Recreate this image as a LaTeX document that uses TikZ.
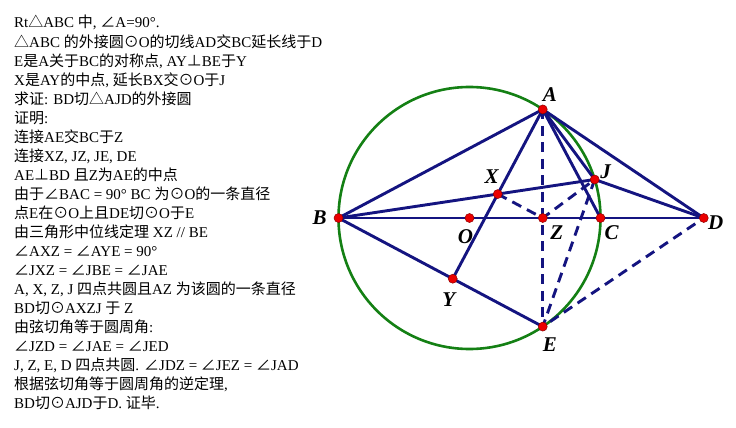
\documentclass[tikz,border=0pt]{standalone}
\usepackage{fontspec}
\setmainfont{Liberation Serif}
\newfontfamily\cjk{Noto Sans CJK SC}
\newcommand{\zh}[1]{{\cjk #1}}
\definecolor{segblue}{RGB}{20,20,128}
\definecolor{circgreen}{RGB}{20,128,20}
\definecolor{ptred}{RGB}{235,0,0}

\begin{document}
\begin{tikzpicture}[x=1pt,y=-1pt,
    seg/.style={segblue, line width=2.9pt},
    aux/.style={seg, dash pattern=on 10pt off 6.5pt},
    pt/.style={circle, fill=ptred, draw=ptred!60!black, line width=0.5pt, inner sep=0pt, minimum size=9pt},
    lab/.style={inner sep=0pt, font=\fontsize{21}{21}\selectfont\bfseries\itshape},
    txt/.style={anchor=base west, inner sep=0pt, font=\fontsize{15}{19}\selectfont}]
    \useasboundingbox (0,0) rectangle (736,428);

    % proof text
    \foreach \ltext [count=\i from 0] in {
        {Rt\zh{△}ABC \zh{中}, \zh{∠}A=90°.},
        {\zh{△}ABC \zh{的外接圆⊙}O\zh{的切线}AD\zh{交}BC\zh{延长线于}D},
        {E\zh{是}A\zh{关于}BC\zh{的对称点}, AY\zh{⊥}BE\zh{于}Y},
        {X\zh{是}AY\zh{的中点}, \zh{延长}BX\zh{交⊙}O\zh{于}J},
        {\zh{求证}: BD\zh{切△}AJD\zh{的外接圆}},
        {\zh{证明}:},
        {\zh{连接}AE\zh{交}BC\zh{于}Z},
        {\zh{连接}XZ, JZ, JE, DE},
        {AE\zh{⊥}BD \zh{且}Z\zh{为}AE\zh{的中点}},
        {\zh{由于∠}BAC = 90° BC \zh{为⊙}O\zh{的一条直径}},
        {\zh{点}E\zh{在⊙}O\zh{上且}DE\zh{切⊙}O\zh{于}E},
        {\zh{由三角形中位线定理} XZ // BE},
        {\zh{∠}AXZ = \zh{∠}AYE = 90°},
        {\zh{∠}JXZ = \zh{∠}JBE = \zh{∠}JAE},
        {A, X, Z, J \zh{四点共圆且}AZ \zh{为该圆的一条直径}},
        {BD\zh{切⊙}AXZJ \zh{于} Z},
        {\zh{由弦切角等于圆周角}:},
        {\zh{∠}JZD = \zh{∠}JAE = \zh{∠}JED},
        {J, Z, E, D \zh{四点共圆}. \zh{∠}JDZ = \zh{∠}JEZ = \zh{∠}JAD},
        {\zh{根据弦切角等于圆周角的逆定理},},
        {BD\zh{切⊙}AJD\zh{于}D. \zh{证毕}.}}
        \node[txt] (l\i) at (14,{28+19.03*\i}) {\ltext};

    \begin{scope}[shift={(469.5,218)}, x=131pt, y=131pt]
        \coordinate (O) at (0,0);
        \coordinate (A) at (0.5592,0.8290);
        \coordinate (B) at (-1,0);
        \coordinate (C) at (1,0);
        \coordinate (Z) at (0.5592,0);
        \coordinate (E) at (0.5592,-0.8290);
        \coordinate (D) at (1.7883,0);
        \coordinate (Y) at (-0.1280,-0.4636);
        \coordinate (X) at (0.2156,0.1827);
        \coordinate (J) at (0.9558,0.2940);

        \draw[circgreen, line width=2.6pt] (O) circle[radius=1]; % circumcircle

        \draw[seg] (B) -- (D);
        \draw[seg] (A) -- (B);
        \draw[seg] (A) -- (Y);
        \draw[seg] (A) -- (C);
        \draw[seg] (A) -- (J);
        \draw[seg] (A) -- (D);
        \draw[seg] (B) -- (J) -- (D);
        \draw[seg] (B) -- (E);

        \draw[aux] (A) -- (E);
        \draw[aux] (X) -- (Z) -- (J);
        \draw[aux] (J) -- (E) -- (D);

        \foreach \p in {A,B,C,D,E,J,O,X,Y,Z}
            \node[pt] (p\p) at (\p) {};

        \node[lab, xshift=7pt, yshift=15pt] (lA) at (A) {A};
        \node[lab, xshift=-19pt] (lB) at (B) {B};
        \node[lab, xshift=11pt, yshift=-15pt] (lC) at (C) {C};
        \node[lab, xshift=12pt, yshift=-5pt] (lD) at (D) {D};
        \node[lab, xshift=7pt, yshift=-18pt] (lE) at (E) {E};
        \node[lab, xshift=11pt, yshift=8pt] (lJ) at (J) {J};
        \node[lab, xshift=-4pt, yshift=-19pt] (lO) at (O) {O};
        \node[lab, xshift=-6pt, yshift=17pt] (lX) at (X) {X};
        \node[lab, xshift=-4pt, yshift=-21pt] (lY) at (Y) {Y};
        \node[lab, xshift=14pt, yshift=-15pt] (lZ) at (Z) {Z};
    \end{scope}
\end{tikzpicture}
\end{document}
